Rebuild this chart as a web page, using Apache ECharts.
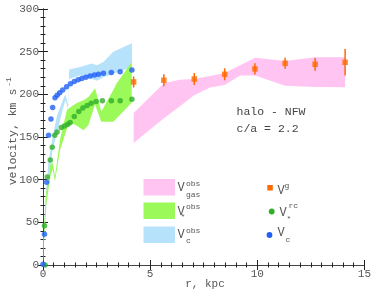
<!DOCTYPE html>
<html><head><meta charset="utf-8">
<script src="https://cdn.jsdelivr.net/npm/echarts@6/dist/echarts.min.js"></script>
<style>html,body{margin:0;padding:0;background:#fff}#c{width:374px;height:290px}</style>
</head><body><div id="c"></div>
<script>
// ---- data ----
const blueR = [0, 0.07, 0.17, 0.26, 0.37, 0.45, 0.56, 0.66, 0.78, 0.92, 1.1, 1.28, 1.46, 1.64, 1.81, 2.0, 2.2, 2.4, 2.59, 2.82, 3.19, 3.6, 4.15];
const blueV = [1, 36, 97, 152, 171, 184.5, 196, 199, 202, 205, 209, 212.5, 215, 217, 218.5, 220, 221.5, 222.7, 223.5, 224.7, 225.5, 226.6, 228.6];
const greenR = [0.1, 0.07, 0.2, 0.34, 0.43, 0.55, 0.66, 0.85, 1.0, 1.16, 1.27, 1.46, 1.67, 1.86, 2.06, 2.25, 2.48, 2.77, 3.19, 3.6, 4.15];
const greenV = [0, 46, 103, 123, 138, 152, 156, 161, 163, 165, 167, 174, 180, 184, 187, 189.6, 191.5, 192.6, 192.6, 192.6, 194.2];
const gasR = [4.23, 5.64, 7.06, 8.48, 9.89, 11.3, 12.7, 14.1];
const gasV = [214.5, 216.5, 218, 223.5, 229.8, 236.4, 235.2, 237.6];
const gasErr = [6.5, 7, 7, 7, 6.5, 6.5, 7.5, 15.5];
const pinkR = [4.23, 5.64, 6.39, 7.05, 7.8, 8.48, 9.2, 9.9, 11.3, 12.7, 14.1];
const pinkLo = [143, 172, 186, 199, 208, 211, 222, 222, 210, 208.5, 208.3];
const pinkHi = [178, 213, 217, 218, 221.5, 225, 234, 243, 239, 243.5, 243.5];
const starBandR = [0.02, 0.15, 0.35, 0.45, 0.56, 0.8, 1.12, 1.35, 1.6, 1.89, 2.12, 2.43, 2.72, 3.28, 3.44, 4.14];
const starBandLo = [15, 70, 105, 112, 98, 135, 160, 166, 163, 158, 164, 188, 168, 168, 172, 190];
const starBandHi = [30, 85, 118, 120, 104, 148, 182, 186, 190, 193, 197, 207, 180, 205, 213, 238];
const cBandR = [0, 0.1, 0.25, 0.45, 0.65, 0.88, 1.04, 1.17, 1.22, 1.73, 2.28, 2.51, 2.82, 3.28, 4.15];
const cBandLo = [0, 50, 100, 135, 155, 178, 193, 183, 218, 222, 218, 216, 220, 224, 232];
const cBandHi = [10, 70, 120, 150, 175, 190, 200, 188, 229, 232, 236, 234, 238, 250, 260];
const xTicks = [0, 5, 10, 15];
const yTicks = [0, 50, 100, 150, 200, 250, 300];

const FONT = '"Liberation Mono", "DejaVu Sans Mono", monospace';
const C_PINK = '#FFC4F1', C_GREENB = '#9CF95A', C_BLUEB = '#B6E2FC';
const C_GDOT = '#2FAF2A', C_BDOT = '#2160F5', C_ORANGE = '#FF6A00';

function band(r, lo, hi, color, z) {
  return {
    type: 'custom', silent: true, z: z,
    data: [[r[0], lo[0]]],
    renderItem: function (params, api) {
      const pts = [];
      for (let i = 0; i < r.length; i++) pts.push(api.coord([r[i], hi[i]]));
      for (let i = r.length - 1; i >= 0; i--) pts.push(api.coord([r[i], lo[i]]));
      return { type: 'polygon', shape: { points: pts }, style: { fill: color, stroke: null } };
    }
  };
}
const zip = (a, b) => a.map((v, i) => [v, b[i]]);

const axisCommon = {
  type: 'value', splitLine: { show: false },
  axisLine: { show: true, lineStyle: { color: '#222', width: 1 } },
  axisTick: { show: true, inside: true, length: 5, lineStyle: { color: '#222' } },
  minorTick: { show: true, length: 2.5, lineStyle: { color: '#222' } },
  axisLabel: { color: '#555', fontFamily: FONT, fontSize: 11 }
};

const chart = echarts.init(document.getElementById('c'), null, { renderer: 'canvas' });
chart.setOption({
  animation: false,
  grid: { left: 43, right: 8, top: 9, bottom: 25 },
  xAxis: [
    Object.assign({}, axisCommon, { min: xTicks[0], max: xTicks[xTicks.length - 1], interval: 5, position: 'bottom',
      minorTick: Object.assign({}, axisCommon.minorTick, { splitNumber: 10 }),
      axisLabel: Object.assign({}, axisCommon.axisLabel, { margin: 4 }) }),
    Object.assign({}, axisCommon, { min: 0, max: 15, interval: 5, position: 'top',
      axisLine: { show: true, lineStyle: { color: '#444', width: 1 } },
      minorTick: Object.assign({}, axisCommon.minorTick, { splitNumber: 10 }),
      axisLabel: { show: false } })
  ],
  yAxis: [
    Object.assign({}, axisCommon, { min: yTicks[0], max: yTicks[yTicks.length - 1], interval: 50, position: 'left',
      minorTick: Object.assign({}, axisCommon.minorTick, { splitNumber: 5 }),
      axisLabel: Object.assign({}, axisCommon.axisLabel, { margin: 4 }) }),
    Object.assign({}, axisCommon, { min: 0, max: 300, interval: 50, position: 'right',
      axisLine: { show: true, lineStyle: { color: '#444', width: 1 } },
      minorTick: Object.assign({}, axisCommon.minorTick, { splitNumber: 5 }),
      axisLabel: { show: false } })
  ],
  series: [
    band(pinkR, pinkLo, pinkHi, C_PINK, 1),
    band(cBandR, cBandLo, cBandHi, C_BLUEB, 2),
    band(starBandR, starBandLo, starBandHi, C_GREENB, 3),
    { type: 'scatter', z: 5, symbol: 'circle', symbolSize: 5.5, itemStyle: { color: C_GDOT }, data: zip(greenR, greenV), clip: false },
    { type: 'scatter', z: 6, symbol: 'circle', symbolSize: 5.5, itemStyle: { color: C_BDOT }, data: zip(blueR, blueV), clip: false },
    { type: 'custom', z: 7, silent: true,
      data: gasR.map((r, i) => [r, gasV[i], gasErr[i]]),
      renderItem: function (params, api) {
        const x = api.value(0), v = api.value(1), e = api.value(2);
        const p1 = api.coord([x, v - e]), p2 = api.coord([x, v + e]);
        return { type: 'line', shape: { x1: p1[0], y1: p1[1], x2: p2[0], y2: p2[1] }, style: { stroke: C_ORANGE, lineWidth: 1.5 } };
      } },
    { type: 'scatter', z: 8, symbol: 'rect', symbolSize: 5.5, itemStyle: { color: C_ORANGE }, data: zip(gasR, gasV) }
  ],
  graphic: [
    // axis titles
    { type: 'text', x: 13, y: 137, rotation: Math.PI / 2, style: { text: 'velocity, km s', font: '11.5px ' + FONT, fill: '#555', align: 'center', verticalAlign: 'middle' } },
    { type: 'text', x: 8.5, y: 82, rotation: Math.PI / 2, style: { text: '-1', font: '8px ' + FONT, fill: '#555', align: 'center', verticalAlign: 'middle' } },
    { type: 'text', x: 205, y: 284, style: { text: 'r, kpc', font: '11px ' + FONT, fill: '#555', align: 'center', verticalAlign: 'middle' } },
    // annotation
    { type: 'text', x: 236.5, y: 112, style: { text: 'halo - NFW', font: '11.5px ' + FONT, fill: '#444', align: 'left', verticalAlign: 'middle' } },
    { type: 'text', x: 236.5, y: 128.5, style: { text: 'c/a = 2.2', font: '11.5px ' + FONT, fill: '#444', align: 'left', verticalAlign: 'middle' } },
    // legend left
    { type: 'rect', shape: { x: 143.5, y: 179, width: 31.5, height: 16.5 }, style: { fill: C_PINK } },
    { type: 'rect', shape: { x: 143.5, y: 202.5, width: 31.5, height: 16.5 }, style: { fill: C_GREENB } },
    { type: 'rect', shape: { x: 143.5, y: 226.5, width: 31.5, height: 16.5 }, style: { fill: C_BLUEB } },
    { type: 'text', x: 177.5, y: 188, style: { text: 'V', font: '12px ' + FONT, fill: '#555', verticalAlign: 'middle' } },
    { type: 'text', x: 186, y: 183.5, style: { text: 'obs', font: '8px ' + FONT, fill: '#555', verticalAlign: 'middle' } },
    { type: 'text', x: 186, y: 195, style: { text: 'gas', font: '8px ' + FONT, fill: '#555', verticalAlign: 'middle' } },
    { type: 'text', x: 177.5, y: 211.5, style: { text: 'V', font: '12px ' + FONT, fill: '#555', verticalAlign: 'middle' } },
    { type: 'text', x: 186, y: 206.5, style: { text: 'obs', font: '8px ' + FONT, fill: '#555', verticalAlign: 'middle' } },
    { type: 'text', x: 180.5, y: 217, style: { text: '*', font: '8px ' + FONT, fill: '#555', verticalAlign: 'middle' } },
    { type: 'text', x: 177.5, y: 234.5, style: { text: 'V', font: '12px ' + FONT, fill: '#555', verticalAlign: 'middle' } },
    { type: 'text', x: 186, y: 230.5, style: { text: 'obs', font: '8px ' + FONT, fill: '#555', verticalAlign: 'middle' } },
    { type: 'text', x: 186, y: 240.5, style: { text: 'c', font: '8px ' + FONT, fill: '#555', verticalAlign: 'middle' } },
    // legend right
    { type: 'rect', shape: { x: 267.3, y: 185, width: 5.5, height: 5.5 }, style: { fill: C_ORANGE } },
    { type: 'text', x: 277.5, y: 190.5, style: { text: 'V', font: '12px ' + FONT, fill: '#555', verticalAlign: 'middle' } },
    { type: 'text', x: 284.5, y: 185.5, style: { text: 'g', font: '8px ' + FONT, fill: '#555', verticalAlign: 'middle' } },
    { type: 'circle', shape: { cx: 271.7, cy: 211.5, r: 2.9 }, style: { fill: C_GDOT } },
    { type: 'text', x: 279.5, y: 212.5, style: { text: 'V', font: '12px ' + FONT, fill: '#555', verticalAlign: 'middle' } },
    { type: 'text', x: 288.5, y: 205.5, style: { text: 'rc', font: '8px ' + FONT, fill: '#555', verticalAlign: 'middle' } },
    { type: 'text', x: 286.5, y: 219, style: { text: '*', font: '8px ' + FONT, fill: '#555', verticalAlign: 'middle' } },
    { type: 'circle', shape: { cx: 269.5, cy: 235, r: 2.9 }, style: { fill: C_BDOT } },
    { type: 'text', x: 277.5, y: 233, style: { text: 'V', font: '12px ' + FONT, fill: '#555', verticalAlign: 'middle' } },
    { type: 'text', x: 285.5, y: 240, style: { text: 'c', font: '8px ' + FONT, fill: '#555', verticalAlign: 'middle' } }
  ]
});
</script>
</body></html>
